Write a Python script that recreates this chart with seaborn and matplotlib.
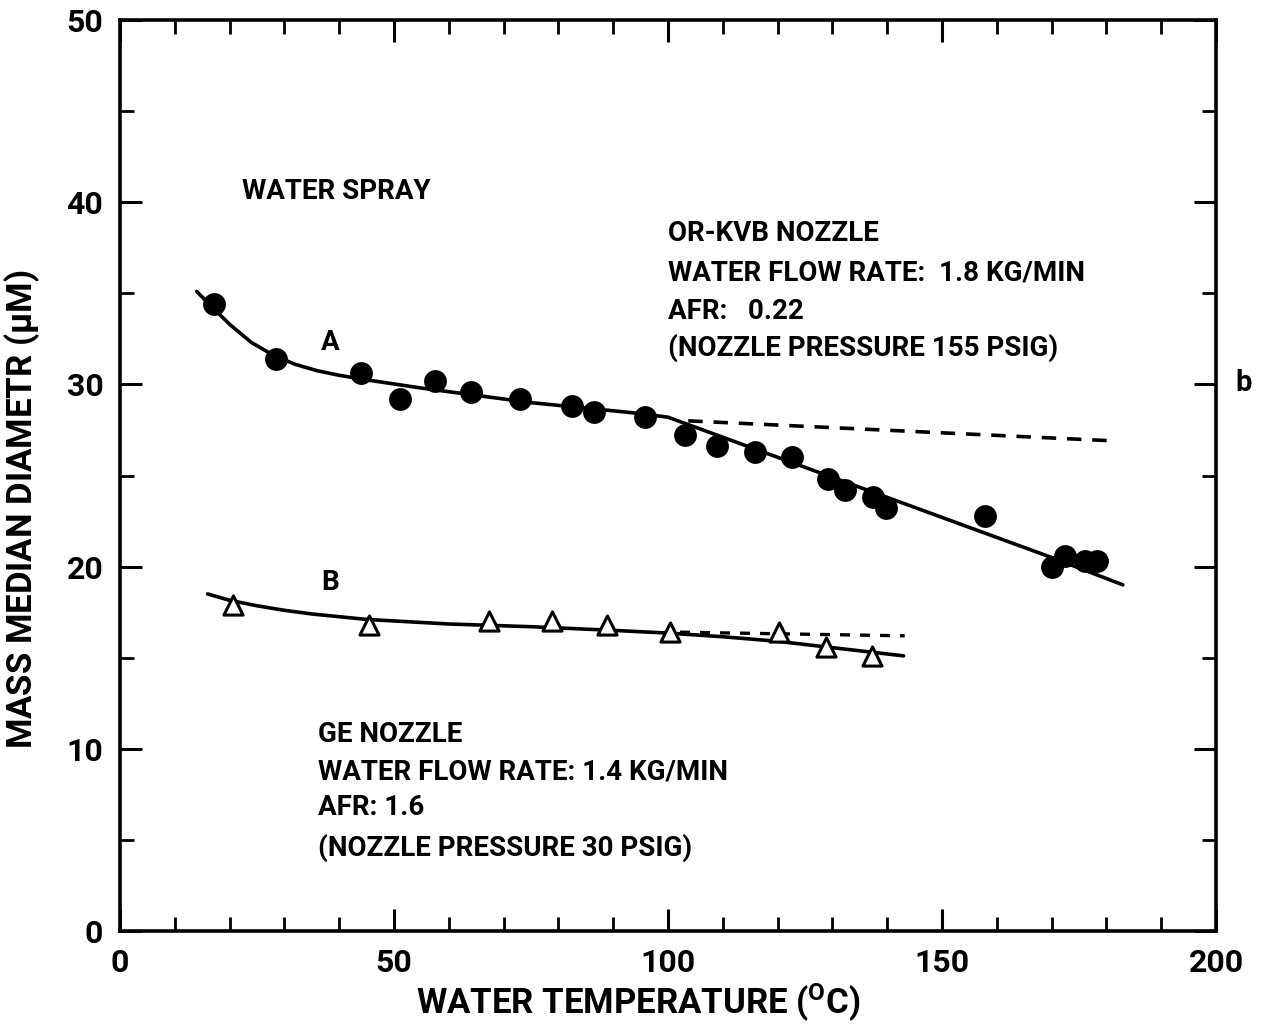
import matplotlib
matplotlib.use("Agg")
import matplotlib.pyplot as plt
import seaborn as sns
import pandas as pd
from matplotlib.ticker import MultipleLocator

# ---- data ----
a_temp = [17.2, 28.5, 44.0, 51.1, 57.5, 64.1, 73.0, 82.5, 86.5, 95.8, 103.1, 108.9,
          115.9, 122.6, 129.2, 132.3, 137.4, 139.8, 157.8, 170.1, 172.4, 176.1, 178.3]
a_mmd = [34.4, 31.4, 30.6, 29.2, 30.2, 29.6, 29.2, 28.8, 28.5, 28.2, 27.2, 26.6,
         26.3, 26.0, 24.8, 24.2, 23.8, 23.2, 22.8, 20.0, 20.6, 20.3, 20.3]
a_fit_x = [14, 17, 20, 24, 28, 32, 36, 40, 45, 55, 65, 75, 85, 95, 100, 110, 120, 130,
           140, 150, 160, 170, 183]
a_fit_y = [35.1, 34.2, 33.3, 32.3, 31.6, 31.1, 30.75, 30.5, 30.25, 29.8, 29.4, 29.0,
           28.7, 28.4, 28.2, 27.1, 26.0, 24.9, 23.8, 22.7, 21.6, 20.5, 19.0]
a_dash_x = [103.7, 181.3]
a_dash_y = [28.0, 26.9]

b_temp = [20.6, 45.4, 67.3, 78.8, 88.9, 100.4, 120.3, 128.8, 137.2]
b_mmd = [17.9, 16.8, 17.0, 17.0, 16.8, 16.4, 16.4, 15.6, 15.1]
b_fit_x = [16, 20, 25, 30, 35, 45, 60, 75, 90, 100, 110, 120, 130, 143]
b_fit_y = [18.5, 18.15, 17.85, 17.6, 17.4, 17.1, 16.85, 16.7, 16.5, 16.35, 16.15, 15.9,
           15.55, 15.1]
b_dash_x = [102.2, 143.2]
b_dash_y = [16.4, 16.2]

x_ticks = [0, 50, 100, 150, 200]
y_ticks = [0, 10, 20, 30, 40, 50]

sns.set_theme(style="ticks")
FONT = ["Roboto", "DejaVu Sans"]
plt.rcParams["font.family"] = FONT
plt.rcParams["font.weight"] = "bold"
plt.rcParams["text.color"] = "black"
plt.rcParams["axes.labelcolor"] = "black"
plt.rcParams["xtick.color"] = "black"
plt.rcParams["ytick.color"] = "black"
plt.rcParams["mathtext.fontset"] = "custom"
plt.rcParams["mathtext.rm"] = "Roboto:bold"
plt.rcParams["mathtext.it"] = "Roboto:bold"

fig = plt.figure(figsize=(12.64, 10.28), dpi=100)
ax = fig.add_axes([0.0949, 0.0944, 0.962 - 0.0949, 0.9805 - 0.0944])

dfa = pd.DataFrame({"t": a_temp, "d": a_mmd})
dfb = pd.DataFrame({"t": b_temp, "d": b_mmd})

sns.lineplot(x=a_fit_x, y=a_fit_y, ax=ax, color="black", lw=2.6, sort=False)
sns.lineplot(x=a_dash_x, y=a_dash_y, ax=ax, color="black", lw=2.6, linestyle=(0, (4, 3)))
sns.lineplot(x=b_fit_x, y=b_fit_y, ax=ax, color="black", lw=2.6, sort=False)
sns.lineplot(x=b_dash_x, y=b_dash_y, ax=ax, color="black", lw=2.4, linestyle=(0, (3, 3)))

sns.scatterplot(data=dfa, x="t", y="d", ax=ax, color="black", s=270, marker="o",
                edgecolor="black", linewidth=0, zorder=3)
sns.scatterplot(data=dfb, x="t", y="d", ax=ax, color="white", s=190, marker="^",
                edgecolor="black", linewidth=2.2, zorder=3)

ax.set_xlim(0, 200)
ax.set_ylim(0, 50)
ax.set_xticks(x_ticks)
ax.set_yticks(y_ticks)
ax.xaxis.set_minor_locator(MultipleLocator(10))
ax.yaxis.set_minor_locator(MultipleLocator(5))
ax.tick_params(which="both", direction="in", top=True, right=True, color="black")
ax.tick_params(which="major", length=16, width=2.2, labelsize=23, pad=12)
ax.tick_params(which="minor", length=10, width=2.0)
for lab in ax.get_xticklabels() + ax.get_yticklabels():
    lab.set_fontweight("bold")
    lab.set_color("black")
for sp in ax.spines.values():
    sp.set_linewidth(2.6)
    sp.set_color("black")

ax.set_xlabel("WATER TEMPERATURE ($^{\\mathrm{O}}$C)", fontsize=25, fontweight="bold")
ax.set_ylabel("MASS MEDIAN DIAMETR ($\\mu$M)", fontsize=25, fontweight="bold")
ax.xaxis.set_label_coords(0.473, -0.055)
ax.yaxis.set_label_coords(-0.071, 0.463)

tkw = dict(fontsize=20, fontweight="bold", color="black", family=FONT)
ax.text(22.2, 40.6, "WATER SPRAY", ha="left", va="center", **tkw)
ax.text(100, 38.3, "OR-KVB NOZZLE", ha="left", va="center", **tkw)
ax.text(100, 36.1, "WATER FLOW RATE:  1.8 KG/MIN", ha="left", va="center", **tkw)
ax.text(100, 34.0, "AFR:   0.22", ha="left", va="center", **tkw)
ax.text(100, 32.0, "(NOZZLE PRESSURE 155 PSIG)", ha="left", va="center", **tkw)
ax.text(38.3, 32.3, "A", ha="center", va="center", **tkw)
ax.text(38.3, 19.1, "B", ha="center", va="center", **tkw)
ax.text(36.1, 10.8, "GE NOZZLE", ha="left", va="center", **tkw)
ax.text(36.1, 8.7, "WATER FLOW RATE: 1.4 KG/MIN", ha="left", va="center", **tkw)
ax.text(36.1, 6.75, "AFR: 1.6", ha="left", va="center", **tkw)
ax.text(36.1, 4.55, "(NOZZLE PRESSURE 30 PSIG)", ha="left", va="center", **tkw)
fig.text(1244 / 1264, 1 - 383 / 1028, "b", ha="center", va="center", fontsize=21,
         fontweight="bold", family=FONT)

fig.savefig("out.png", dpi=100)
